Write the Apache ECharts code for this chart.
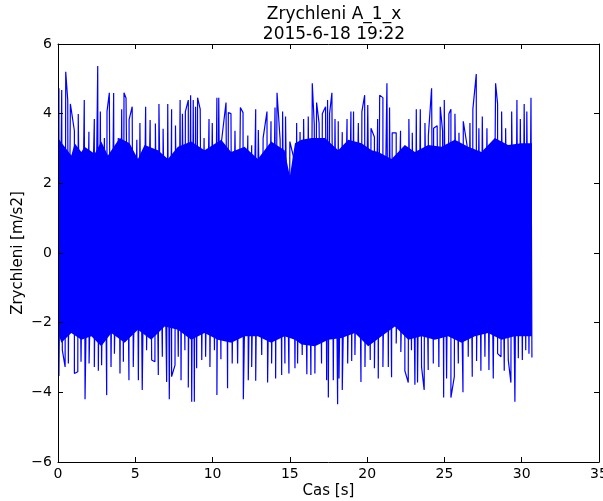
<!DOCTYPE html>
<html>
<head>
<meta charset="utf-8">
<script src="https://cdn.jsdelivr.net/npm/echarts@6/dist/echarts.min.js"></script>
<style>
  html, body { margin: 0; padding: 0; background: #fff; }
  #chart { width: 603px; height: 501px; }
</style>
</head>
<body>
<div id="chart"></div>
<script>
// peak tops (time [s], value [m/s2])
const hiT = [0.06, 0.24, 0.5, 0.63, 0.8, 1.06, 1.31, 1.7, 2.0, 2.35, 2.57, 2.74, 3.0, 3.17, 3.32, 3.6, 3.9, 4.12, 4.27, 4.4, 4.6, 4.8, 5.1, 5.3, 5.67, 5.96, 6.3, 6.53, 6.8, 7.1, 7.35, 7.6, 7.9, 8.05, 8.24, 8.43, 8.58, 8.75, 8.9, 9.03, 9.2, 9.45, 9.77, 9.98, 10.28, 10.4, 10.55, 10.87, 11.02, 11.19, 11.45, 11.8, 11.97, 12.28, 12.53, 12.79, 12.96, 13.27, 13.52, 13.78, 14.04, 14.17, 14.37, 14.53, 14.72, 15.0, 15.23, 15.44, 15.66, 15.89, 16.19, 16.45, 16.58, 16.73, 16.89, 17.1, 17.31, 17.44, 17.57, 17.72, 17.92, 18.13, 18.39, 18.7, 18.95, 19.12, 19.43, 19.66, 19.84, 20.04, 20.25, 20.47, 20.68, 20.81, 21.02, 21.28, 21.45, 21.62, 21.88, 22.16, 22.44, 22.7, 22.92, 23.18, 23.44, 23.74, 23.96, 24.17, 24.3, 24.53, 24.73, 24.88, 24.99, 25.29, 25.42, 25.68, 25.94, 26.22, 26.46, 26.65, 26.84, 27.06, 27.23, 27.45, 27.75, 28.0, 28.31, 28.44, 28.7, 28.96, 29.35, 29.69, 29.91, 30.16, 30.33, 30.6]
const hiV = [4.73, 4.68, 5.2, 4.39, 4.28, 3.51, 3.99, 4.39, 3.48, 3.85, 5.37, 4.06, 3.3, 4.06, 4.6, 4.59, 3.3, 4.13, 4.6, 4.45, 3.83, 4.2, 3.25, 3.73, 4.2, 3.82, 3.72, 4.28, 3.57, 4.28, 4.13, 3.66, 4.39, 4.0, 4.06, 4.39, 4.53, 4.39, 4.2, 4.46, 4.13, 3.3, 3.85, 3.73, 4.46, 4.46, 3.1, 4.32, 4.03, 4.0, 3.51, 4.18, 4.03, 3.37, 3.09, 4.13, 3.53, 3.3, 4.06, 3.78, 4.18, 4.6, 3.25, 4.06, 3.92, 3.2, 2.77, 3.73, 3.47, 3.85, 3.92, 4.87, 3.69, 4.32, 3.73, 4.0, 4.2, 4.39, 4.0, 4.6, 3.85, 3.78, 3.47, 3.85, 4.06, 4.06, 3.73, 4.06, 4.53, 4.25, 3.58, 3.33, 3.85, 4.53, 4.46, 4.87, 4.18, 3.45, 3.45, 3.51, 2.97, 3.85, 3.45, 4.13, 4.13, 3.73, 3.37, 4.73, 3.58, 3.65, 4.2, 3.51, 4.39, 4.0, 4.13, 4.0, 3.45, 3.78, 3.1, 3.73, 4.13, 5.14, 3.58, 3.92, 3.58, 3.14, 4.87, 4.28, 4.06, 3.58, 4.06, 4.39, 3.85, 4.28, 4.06, 4.46]

// peak bottoms
const loT = [0.06, 0.28, 0.46, 0.67, 1.06, 1.28, 1.49, 1.75, 2.01, 2.35, 2.61, 2.82, 3.15, 3.43, 3.65, 4.01, 4.23, 4.59, 4.87, 5.2, 5.45, 5.73, 6.06, 6.27, 6.49, 6.75, 7.03, 7.2, 7.35, 7.57, 7.78, 7.96, 8.21, 8.43, 8.65, 8.82, 8.97, 9.3, 9.55, 9.83, 10.12, 10.28, 10.54, 10.97, 11.27, 11.62, 11.99, 12.31, 12.53, 12.79, 13.18, 13.56, 13.82, 14.08, 14.47, 14.68, 14.94, 15.33, 15.5, 15.8, 16.1, 16.36, 16.62, 17.05, 17.38, 17.49, 17.81, 18.09, 18.18, 18.39, 18.74, 19.0, 19.21, 19.6, 19.86, 20.2, 20.47, 20.72, 21.02, 21.37, 21.58, 21.88, 22.18, 22.44, 22.66, 22.87, 23.09, 23.26, 23.52, 23.69, 23.95, 24.28, 24.64, 24.95, 25.14, 25.42, 25.64, 25.9, 26.2, 26.54, 26.8, 27.08, 27.36, 27.62, 27.88, 28.16, 28.44, 28.66, 28.87, 29.13, 29.3, 29.56, 29.78, 30.04, 30.26, 30.47, 30.66]
const loV = [-3.53, -2.79, -3.27, -3.17, -3.46, -3.41, -3.12, -4.2, -3.17, -3.27, -3.38, -3.22, -4.08, -3.27, -2.89, -3.46, -3.12, -3.65, -3.27, -3.65, -3.93, -2.79, -3.07, -3.12, -3.5, -2.98, -3.7, -4.2, -3.55, -3.22, -2.98, -3.65, -2.79, -3.86, -4.27, -4.27, -3.31, -3.07, -2.98, -3.27, -2.79, -4.08, -3.05, -3.88, -3.17, -3.17, -4.2, -3.65, -3.27, -3.67, -2.93, -3.72, -3.17, -3.6, -3.5, -3.17, -3.46, -3.31, -3.17, -2.93, -3.48, -3.5, -3.46, -3.17, -3.65, -4.15, -3.65, -4.34, -3.6, -3.93, -3.17, -3.1, -2.93, -3.7, -3.27, -3.07, -3.31, -3.6, -3.27, -3.27, -3.57, -2.6, -2.84, -3.38, -3.72, -2.79, -3.78, -3.72, -3.27, -3.93, -3.36, -3.17, -3.27, -4.15, -3.6, -4.15, -3.55, -3.17, -4.0, -2.98, -3.55, -3.1, -3.38, -2.98, -3.36, -3.6, -2.89, -2.98, -3.38, -3.07, -3.72, -4.27, -3.02, -3.07, -2.79, -2.89, -3.0]

// solid core where the lines overlap completely
const coreHiT = [0, 0.86, 1.08, 1.51, 1.72, 2.37, 2.8, 3.23, 3.99, 4.63, 5.17, 5.6, 6.47, 7.11, 7.76, 8.62, 9.48, 10.56, 11.2, 12.07, 12.93, 13.79, 14.66, 15.0, 15.33, 15.76, 16.41, 17.27, 18.13, 18.78, 19.64, 20.29, 20.72, 21.58, 22.44, 23.09, 23.95, 24.81, 25.67, 26.54, 27.4, 28.26, 29.12, 29.99, 30.66]
const coreHiV = [3.3, 2.8, 3.15, 2.9, 3.05, 2.85, 3.2, 2.8, 3.3, 3.15, 2.7, 3.1, 2.95, 2.7, 3.05, 3.2, 2.95, 3.25, 2.9, 3.05, 2.7, 3.2, 2.95, 2.2, 3.15, 3.25, 3.3, 3.3, 2.95, 3.25, 3.15, 2.95, 2.9, 2.7, 3.1, 2.9, 3.1, 3.05, 3.25, 3.05, 2.9, 3.3, 3.1, 3.15, 3.15]
const coreLoT = [0, 0.22, 0.86, 1.51, 2.16, 2.8, 3.45, 4.31, 5.17, 6.03, 6.9, 7.76, 8.62, 9.48, 10.34, 11.21, 12.07, 12.93, 13.79, 14.66, 15.33, 15.76, 16.62, 17.49, 18.35, 19.21, 20.07, 20.93, 21.8, 22.66, 23.52, 24.38, 25.24, 26.11, 26.97, 27.83, 28.69, 29.55, 30.66]
const coreLoV = [-2.3, -2.58, -2.3, -2.49, -2.39, -2.68, -2.3, -2.58, -2.2, -2.49, -2.11, -2.2, -2.49, -2.3, -2.49, -2.58, -2.39, -2.39, -2.58, -2.39, -2.49, -2.63, -2.68, -2.49, -2.44, -2.3, -2.68, -2.39, -2.11, -2.49, -2.39, -2.49, -2.39, -2.58, -2.39, -2.3, -2.49, -2.39, -2.39]

const xTicks = { min: 0, max: 35, interval: 5 }
const yTicks = { min: -6, max: 6, interval: 2 }

const BLUE = '#0000ff'
const FONT = 'DejaVu Sans'

// merge tops and bottoms in time order -> the signal swings between them
const peaks = hiT.map((t, i) => [t, hiV[i]])
  .concat(loT.map((t, i) => [t, loV[i]]))
  .sort((a, b) => a[0] - b[0])

const chart = echarts.init(document.getElementById('chart'))

const minus = v => String(v).replace('-', '\u2212')
const axisLine = { show: true, onZero: false, lineStyle: { color: '#000', width: 1 } }
const tick = { show: true, inside: true, length: 5, lineStyle: { color: '#000' } }

chart.setOption({
  animation: false,
  textStyle: { fontFamily: FONT },
  title: {
    text: 'Zrychleni A_1_x\n2015-6-18 19:22',
    left: 329,
    top: 0,
    textAlign: 'center',
    textStyle: { fontFamily: FONT, fontSize: 17, fontWeight: 'normal', color: '#000', lineHeight: 20 }
  },
  grid: { left: 58, right: 4, top: 44, bottom: 39, outerBoundsMode: 'none', containLabel: false },
  xAxis: [{
    type: 'value', ...xTicks, z: 10,
    axisLine, axisTick: tick, splitLine: { show: false },
    axisLabel: { color: '#000', fontSize: 14, margin: 5, fontFamily: FONT },
    name: 'Cas [s]', nameLocation: 'middle', nameGap: 22, nameMoveOverlap: false,
    nameTextStyle: { color: '#000', fontSize: 15, fontFamily: FONT }
  }, {
    type: 'value', position: 'top', ...xTicks, z: 10,
    axisLine, axisTick: tick, splitLine: { show: false }, axisLabel: { show: false }
  }],
  yAxis: [{
    type: 'value', ...yTicks, z: 10,
    axisLine, axisTick: tick, splitLine: { show: false },
    axisLabel: { color: '#000', fontSize: 14, margin: 6, fontFamily: FONT, formatter: minus },
    name: 'Zrychleni [m/s2]', nameLocation: 'middle', nameGap: 32, nameMoveOverlap: false,
    nameTextStyle: { color: '#000', fontSize: 15, fontFamily: FONT }
  }, {
    type: 'value', position: 'right', ...yTicks, z: 10,
    axisLine, axisTick: tick, splitLine: { show: false }, axisLabel: { show: false }
  }],
  series: [
    {
      type: 'line', data: coreHiT.map((t, i) => [t, coreHiV[i]]),
      showSymbol: false, lineStyle: { width: 0 },
      areaStyle: { color: BLUE, opacity: 1, origin: -0.5 }, z: 1
    },
    {
      type: 'line', data: coreLoT.map((t, i) => [t, coreLoV[i]]),
      showSymbol: false, lineStyle: { width: 0 },
      areaStyle: { color: BLUE, opacity: 1, origin: 0.5 }, z: 1
    },
    {
      type: 'line', data: peaks, showSymbol: false, sampling: 'none',
      lineStyle: { color: BLUE, width: 1.2 }, z: 2
    }
  ]
})
</script>
</body>
</html>
